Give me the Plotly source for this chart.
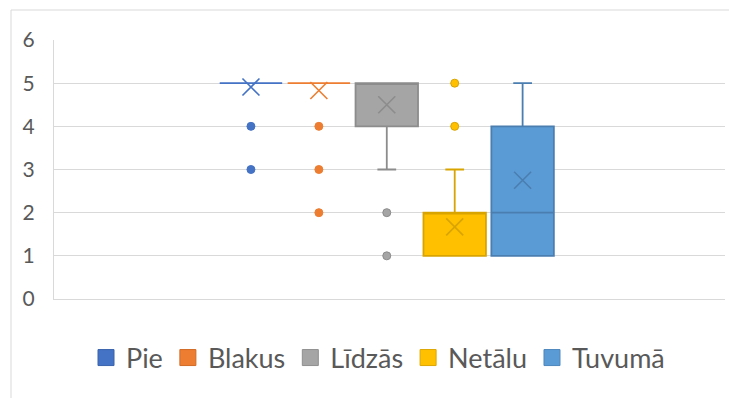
import plotly.graph_objects as go

# Series (one box per group)
names = ["Pie", "Blakus", "Līdzās", "Netālu", "Tuvumā"]
q1 = [5, 5, 4, 1, 1]
median = [5, 5, 5, 2, 2]
q3 = [5, 5, 5, 2, 4]
lower_fence = [5, 5, 3, 1, 1]
upper_fence = [5, 5, 5, 3, 5]
means = [4.91, 4.83, 4.5, 1.67, 2.75]
outliers = [[4, 3], [4, 3, 2], [2, 1], [4, 5], []]

y_ticks = [0, 1, 2, 3, 4, 5, 6]

# Colours: fill and darker edge per series
fill_colors = ["#4472C4", "#ED7D31", "#A5A5A5", "#FFC000", "#5B9BD5"]
edge_colors = ["#4472C4", "#ED7D31", "#8C8C8C", "#D9A400", "#4A7EB0"]
legend_edges = ["#3A63AD", "#D06A25", "#8F8F8F", "#DDA600", "#4C87BD"]

W, H = 729, 398
ML, MR, MT, MB = 54, 4, 40, 99
PW, PH = W - ML - MR, H - MT - MB


def px_x(px):
    return (px - ML) / PW


def px_y(py):
    return (H - MB - py) / PH


fig = go.Figure()

for i, name in enumerate(names):
    fig.add_trace(go.Box(
        x=[i], q1=[q1[i]], median=[median[i]], q3=[q3[i]],
        lowerfence=[lower_fence[i]], upperfence=[upper_fence[i]],
        width=0.92, whiskerwidth=0.3,
        fillcolor=fill_colors[i],
        line=dict(color=edge_colors[i], width=1.8),
        boxpoints=False, showlegend=False, hoverinfo="skip",
    ))
    if outliers[i]:
        fig.add_trace(go.Scatter(
            x=[i] * len(outliers[i]), y=outliers[i], mode="markers",
            marker=dict(symbol="circle", size=8, color=fill_colors[i],
                        line=dict(color=edge_colors[i], width=1)),
            showlegend=False, hoverinfo="skip",
        ))
    # Mean marker
    fig.add_trace(go.Scatter(
        x=[i], y=[means[i]], mode="markers",
        marker=dict(symbol="x-thin-open", size=17, color=edge_colors[i],
                    line=dict(color=edge_colors[i], width=1.6)),
        showlegend=False, hoverinfo="skip",
    ))

# Legend entries: filled squares in series colours
for i, name in enumerate(names):
    fig.add_trace(go.Scatter(
        x=[None], y=[None], mode="markers", name=name,
        marker=dict(symbol="square", size=16, color=fill_colors[i],
                    line=dict(color=legend_edges[i], width=1)),
    ))

grid = "#D9D9D9"
fig.update_layout(
    width=W, height=H,
    margin=dict(l=ML, r=MR, t=MT, b=MB),
    paper_bgcolor="white", plot_bgcolor="white",
    font=dict(family="Lato", color="#595959"),
    showlegend=True,
    legend=dict(orientation="h", x=px_x(378), xanchor="center",
                y=px_y(358), yanchor="middle",
                font=dict(size=27, color="#595959"),
                itemwidth=30, bgcolor="rgba(0,0,0,0)"),
    xaxis=dict(range=[-2.90, 6.98], showticklabels=False, showgrid=False,
               zeroline=False, showline=True, linecolor=grid, linewidth=1.3,
               fixedrange=True),
    yaxis=dict(range=[0, 6], tickvals=y_ticks, showgrid=True, gridcolor=grid,
               gridwidth=1.3, zeroline=False, showline=True, linecolor=grid,
               linewidth=1.3, ticks="", ticklabelstandoff=14,
               tickfont=dict(size=21, color="#595959"), fixedrange=True),
    shapes=[
        dict(type="line", xref="paper", yref="paper",
             x0=px_x(11), x1=px_x(11), y0=px_y(H + 2), y1=px_y(10),
             line=dict(color=grid, width=1)),
        dict(type="line", xref="paper", yref="paper",
             x0=px_x(11), x1=px_x(W + 2), y0=px_y(10), y1=px_y(10),
             line=dict(color=grid, width=1)),
    ],
)

fig.write_html("out.html")
